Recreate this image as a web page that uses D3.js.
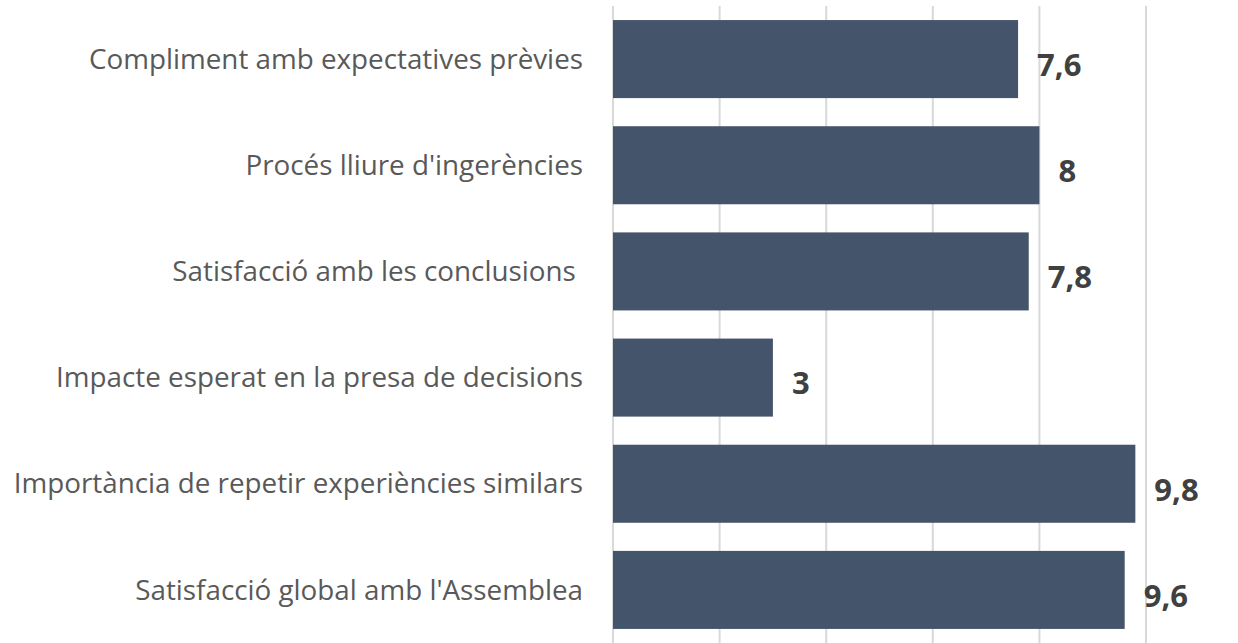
<!DOCTYPE html>
<html>
<head>
<meta charset="utf-8">
<script src="https://cdn.jsdelivr.net/npm/d3@7"></script>
<style>
  body { margin: 0; background: #fff; }
  svg { display: block; }
</style>
</head>
<body>
<div id="chart"></div>
<script>
'use strict';

var categories = [
    'Compliment amb expectatives prèvies',
    "Procés lliure d'ingerències",
    'Satisfacció amb les conclusions ',
    'Impacte esperat en la presa de decisions',
    'Importància de repetir experiències similars',
    "Satisfacció global amb l'Assemblea"
];
var values = [7.6, 8, 7.8, 3, 9.8, 9.6];
var xTicks = [0, 2, 4, 6, 8, 10];

var chartBarh = (function() {

    var width = 1238,
        height = 643;

    var plotLeft = 613,
        plotRight = 1146,
        plotTop = 6,
        plotBottom = 643;

    var svg = d3.select('#chart').append('svg')
        .attr('width', width)
        .attr('height', height);

    var x = d3.scaleLinear().domain([0, 10]).range([plotLeft, plotRight]);
    var y = d3.scaleBand().domain(categories).range([plotTop, plotBottom])
        .paddingInner(0.265).paddingOuter(0.1325);

    // gridlines
    svg.append('g').selectAll('line')
        .data(xTicks)
        .enter().append('line')
        .attr('x1', function(d) { return x(d); })
        .attr('x2', function(d) { return x(d); })
        .attr('y1', plotTop)
        .attr('y2', plotBottom)
        .attr('stroke', '#d9d9d9')
        .attr('stroke-width', 2);

    // bars
    svg.append('g').selectAll('rect')
        .data(values)
        .enter().append('rect')
        .attr('x', x(0))
        .attr('y', function(d, i) { return y(categories[i]); })
        .attr('width', function(d) { return x(d) - x(0); })
        .attr('height', y.bandwidth())
        .attr('fill', '#44546a');

    // category labels
    svg.append('g').selectAll('text')
        .data(categories)
        .enter().append('text')
        .attr('x', 583)
        .attr('y', function(d) { return y(d) + y.bandwidth() / 2; })
        .attr('dy', '0.35em')
        .attr('text-anchor', 'end')
        .style('font-family', '"Open Sans", sans-serif')
        .style('font-size', '27.8px')
        .attr('fill', '#595959')
        .style('white-space', 'pre')
        .text(function(d) { return d; });

    // value labels
    svg.append('g').selectAll('text')
        .data(values)
        .enter().append('text')
        .attr('x', function(d) { return x(d) + 19; })
        .attr('y', function(d, i) { return y(categories[i]) + y.bandwidth() / 2 + 6; })
        .attr('dy', '0.35em')
        .style('font-family', '"Open Sans", sans-serif')
        .style('font-size', '31px')
        .style('font-weight', 'bold')
        .attr('fill', '#404040')
        .text(function(d) { return String(d).replace('.', ','); });

    return svg;
})();
</script>
</body>
</html>
